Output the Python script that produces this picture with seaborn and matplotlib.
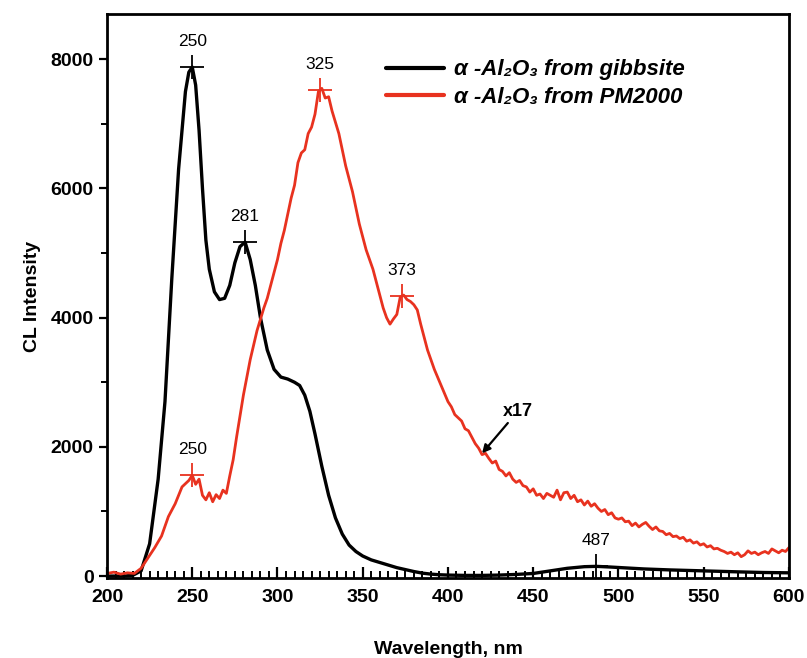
import numpy as np
import pandas as pd
import matplotlib
matplotlib.use("Agg")
import matplotlib.pyplot as plt
from matplotlib.ticker import MultipleLocator
import seaborn as sns

# ---- data ----
black_wl = [200, 210, 215, 220, 225, 230, 234, 238, 242, 246, 248, 250, 252, 254, 256, 258, 260,
            263, 266, 269, 272, 275, 278, 281, 284, 287, 290, 294, 298, 302, 306, 310, 313, 316,
            319, 322, 326, 330, 334, 338, 342, 346, 350, 355, 360, 365, 370, 375, 380, 385, 390,
            395, 400, 410, 420, 430, 440, 450, 460, 470, 480, 487, 495, 505, 515, 530, 550, 570,
            585, 600]
black_val = [0, 0, 10, 80, 500, 1500, 2700, 4600, 6300, 7500, 7800, 7880, 7600, 6900, 6000, 5200,
             4750, 4400, 4280, 4300, 4500, 4850, 5100, 5170, 4900, 4500, 4000, 3500, 3200, 3080,
             3050, 3000, 2950, 2800, 2550, 2200, 1700, 1250, 900, 650, 480, 380, 310, 250, 210,
             170, 130, 100, 70, 45, 30, 20, 15, 10, 10, 15, 25, 40, 80, 120, 145, 150, 140, 125,
             110, 95, 80, 65, 55, 50]

red_wl = (list(range(200, 249, 4)) + list(range(250, 275, 2)) + [276, 280, 284, 288, 292]
          + list(range(294, 333, 2)) + [336, 340, 344, 348, 352, 356, 360]
          + list(range(362, 385, 2)) + [388, 392, 396, 400] + list(range(402, 601, 2)))
red_val = ([40, 60, 30, 50, 40, 120, 280, 440, 620, 920, 1120, 1380, 1480]
           + [1560, 1420, 1500, 1250, 1180, 1290, 1150, 1260, 1200, 1330, 1280, 1550, 1800]
           + [2150, 2800, 3350, 3800, 4150]
           + [4300, 4500, 4700, 4900, 5150, 5350, 5600, 5850, 6050, 6400,
              6550, 6600, 6850, 6950, 7150, 7500, 7550, 7400, 7420, 7200]
           + [6850, 6350, 5950, 5450, 5050, 4750, 4350]
           + [4150, 4000, 3900, 3980, 4050, 4320, 4350, 4280, 4250, 4200, 4120, 3900]
           + [3500, 3200, 2950, 2700]
           + [2620, 2500, 2450, 2400, 2280, 2250, 2150, 2050, 1980, 1880,
              1900, 1820, 1750, 1780, 1650, 1620, 1550, 1600, 1500, 1450,
              1480, 1400, 1380, 1300, 1350, 1250, 1270, 1200, 1280, 1250,
              1220, 1330, 1180, 1290, 1300, 1200, 1250, 1150, 1180, 1100,
              1160, 1080, 1120, 1050, 1000, 1030, 950, 980, 900, 880,
              900, 840, 850, 780, 820, 760, 800, 830, 770, 720,
              760, 700, 690, 640, 660, 610, 620, 580, 600, 540,
              560, 510, 530, 480, 500, 450, 470, 420, 430, 400,
              380, 350, 370, 330, 360, 300, 330, 390, 350, 370,
              330, 360, 380, 350, 420, 390, 360, 400, 380, 440])

series_names = ["α -Al₂O₃ from gibbsite", "α -Al₂O₃ from PM2000"]
black_peaks = [250, 281, 487]
red_peaks = [250, 325, 373]
x_ticks = [200, 250, 300, 350, 400, 450, 500, 550, 600]
y_ticks = [0, 2000, 4000, 6000, 8000]
annot_text = "x17"

# ---- plot ----
sns.set_style("white")
plt.rcParams['font.family'] = ['Liberation Sans', 'DejaVu Sans']
plt.rcParams['text.color'] = 'black'
plt.rcParams['axes.labelcolor'] = 'black'
plt.rcParams['xtick.color'] = 'black'
plt.rcParams['ytick.color'] = 'black'

df = pd.concat([
    pd.DataFrame({"wl": black_wl, "val": black_val, "series": series_names[0]}),
    pd.DataFrame({"wl": red_wl, "val": red_val, "series": series_names[1]}),
])

fig = plt.figure(figsize=(8.07, 6.58), dpi=100)
ax = fig.add_axes([0.1326, 0.1216, 0.845, 0.857])
red = "#e8321f"
palette = {series_names[0]: "#000000", series_names[1]: red}
sns.lineplot(data=df, x="wl", y="val", hue="series", palette=palette, ax=ax,
             errorbar=None, estimator=None)
for line, lw in zip(ax.get_lines()[:2], [2.4, 2.0]):
    line.set_linewidth(lw)

# peak markers and labels
for wls, wv, vals, col in [(black_peaks, black_wl, black_val, "black"),
                           (red_peaks, red_wl, red_val, red)]:
    ys = np.interp(wls, wv, vals)
    ax.plot(wls, ys, linestyle="none", marker="+", markersize=17, mew=1.3, color=col)
    for w, y in zip(wls, ys):
        ax.text(w, y + 280, str(w), ha="center", va="bottom", fontsize=12.5, color="black")

ax.annotate(annot_text, xy=(420, 1900), xytext=(441, 2420), fontsize=13, fontweight="bold",
            ha="center", va="bottom", color="black",
            arrowprops=dict(arrowstyle="-|>", color="black", lw=1.6, shrinkA=0, shrinkB=0,
                            mutation_scale=12))

ax.set_xlim(200, 600)
ax.set_ylim(-30, 8700)
ax.set_xticks(x_ticks)
ax.set_yticks(y_ticks)
ax.xaxis.set_minor_locator(MultipleLocator(5))
ax.yaxis.set_minor_locator(MultipleLocator(1000))
ax.tick_params(axis="x", which="both", bottom=True, top=False)
ax.tick_params(axis="y", which="both", left=True, right=False)
ax.tick_params(axis="x", which="major", direction="in", length=8, width=1.6, labelsize=14, pad=8)
ax.tick_params(axis="x", which="minor", direction="in", length=5, width=1.4)
ax.tick_params(axis="y", which="major", direction="out", length=6, width=1.6, labelsize=14)
ax.tick_params(axis="y", which="minor", direction="out", length=4, width=1.4)
for lab in ax.get_xticklabels() + ax.get_yticklabels():
    lab.set_fontweight("bold")
for sp in ax.spines.values():
    sp.set_linewidth(2)
    sp.set_color("black")

ax.set_xlabel("Wavelength, nm", fontsize=14, fontweight="bold", labelpad=25)
ax.set_ylabel("CL Intensity", fontsize=14, fontweight="bold", labelpad=7)

leg = ax.legend(loc="upper left", bbox_to_anchor=(0.38, 0.955), frameon=False,
                handlelength=2.6, handletextpad=0.45, labelspacing=0.3,
                prop=dict(size=16, weight="bold", style="italic"))
for h in leg.get_lines():
    h.set_linewidth(3)
for t in leg.get_texts():
    t.set_color("black")

fig.savefig("out.png", dpi=100)
